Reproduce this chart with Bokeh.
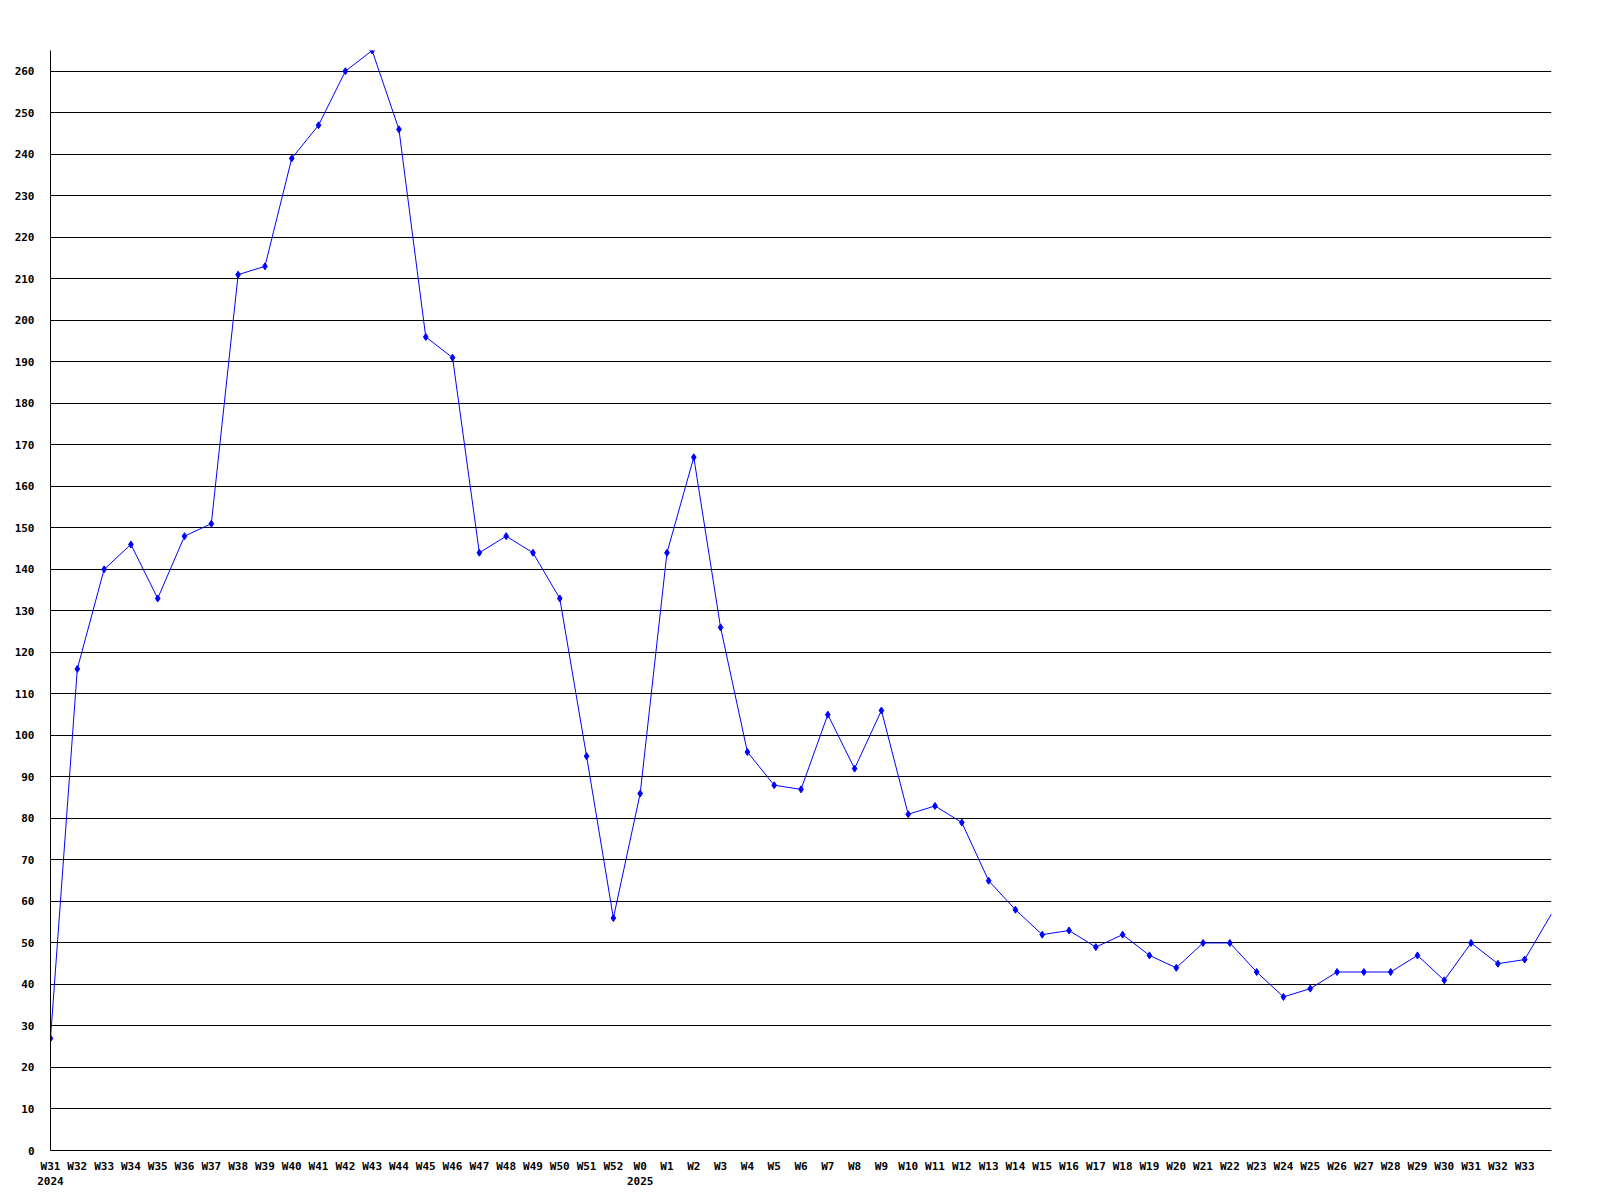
from bokeh.plotting import figure
from bokeh.models import FixedTicker, Range1d
from bokeh.embed import file_html
from bokeh.resources import INLINE

weeks = ["W31", "W32", "W33", "W34", "W35", "W36", "W37", "W38", "W39", "W40",
         "W41", "W42", "W43", "W44", "W45", "W46", "W47", "W48", "W49", "W50",
         "W51", "W52",
         "W0", "W1", "W2", "W3", "W4", "W5", "W6", "W7", "W8", "W9", "W10",
         "W11", "W12", "W13", "W14", "W15", "W16", "W17", "W18", "W19", "W20",
         "W21", "W22", "W23", "W24", "W25", "W26", "W27", "W28", "W29", "W30",
         "W31", "W32", "W33", "W34"]
year_labels = {0: "2024", 22: "2025"}
values = [27, 116, 140, 146, 133, 148, 151, 211, 213, 239,
          247, 260, 265, 246, 196, 191, 144, 148, 144, 133,
          95, 56,
          86, 144, 167, 126, 96, 88, 87, 105, 92, 106, 81,
          83, 79, 65, 58, 52, 53, 49, 52, 47, 44,
          50, 50, 43, 37, 39, 43, 43, 43, 47, 41,
          50, 45, 46, 57]
y_ticks = list(range(0, 261, 10))

xs = list(range(len(values)))
n_shown = len(values) - 1  # last week lies on the right edge

p = figure(width=1584, height=1192, output_backend="svg", toolbar_location=None,
           x_range=Range1d(0, n_shown), y_range=Range1d(0, 265),
           min_border_left=50, min_border_right=33, min_border_top=50,
           min_border_bottom=42)
p.outline_line_color = None
p.background_fill_color = "white"
p.border_fill_color = "white"

font = "DejaVu Sans Mono"

# x axis
p.xaxis.ticker = FixedTicker(ticks=list(range(n_shown)))
overrides = {}
for i in range(n_shown):
    lab = weeks[i]
    if i in year_labels:
        lab = lab + "\n" + year_labels[i]
    overrides[i] = lab
p.xaxis.major_label_overrides = overrides
p.xaxis.major_tick_line_color = None
p.xaxis.minor_tick_line_color = None
p.xaxis.axis_line_color = "black"
p.xaxis.major_label_text_font = font
p.xaxis.major_label_text_font_style = "bold"
p.xaxis.major_label_text_font_size = "11px"
p.xaxis.major_label_standoff = 3
p.xaxis.major_label_text_color = "black"

# y axis
p.yaxis.ticker = FixedTicker(ticks=y_ticks)
p.yaxis.major_tick_line_color = None
p.yaxis.minor_tick_line_color = None
p.yaxis.axis_line_color = "black"
p.yaxis.major_label_text_font = font
p.yaxis.major_label_text_font_style = "bold"
p.yaxis.major_label_text_font_size = "11px"
p.yaxis.major_label_standoff = 10
p.yaxis.major_label_text_color = "black"

p.xgrid.grid_line_color = None
p.ygrid.ticker = FixedTicker(ticks=y_ticks[1:])
p.ygrid.grid_line_color = "black"
p.ygrid.grid_line_width = 1

p.line(xs, values, line_color="#0000ff", line_width=1)
p.scatter(xs[:n_shown], values[:n_shown], marker="diamond", size=7,
          fill_color="#0000ff", line_color="#0000ff")

open("out.html", "w").write(file_html(p, INLINE))
